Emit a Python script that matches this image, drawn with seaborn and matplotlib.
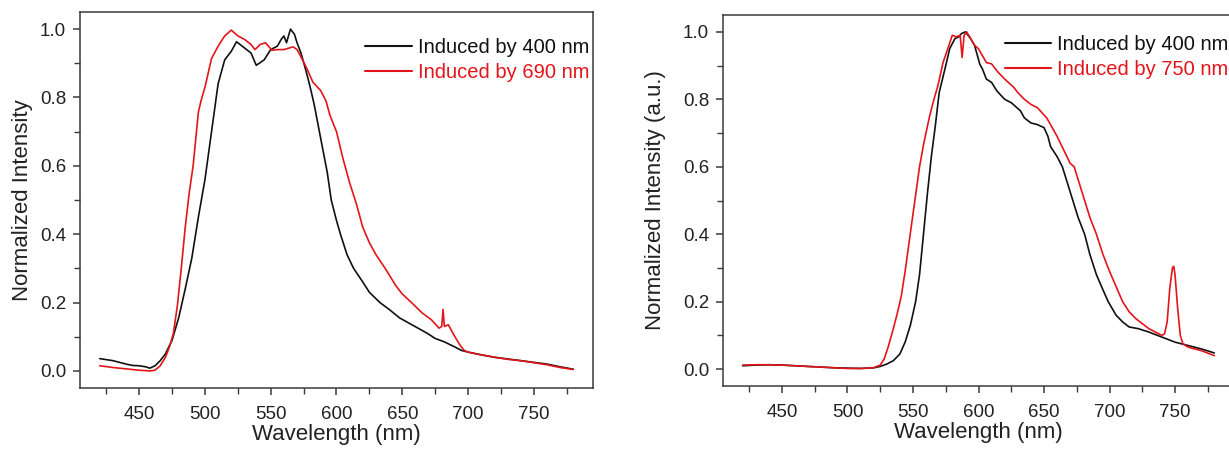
import matplotlib
matplotlib.use("Agg")
import matplotlib.pyplot as plt
import seaborn as sns
import pandas as pd
from matplotlib.ticker import MultipleLocator

# ---------------- data ----------------
# Left panel: induced by 400 nm (black)
left_400_wl = [420, 425, 430, 435, 440, 445, 450, 455, 458, 462, 466, 470, 475, 480, 485,
               490, 495, 500, 505, 510, 515, 520, 524, 530, 535, 539, 545, 550, 555, 558,
               560, 562, 565, 568, 570, 573, 577, 580, 583, 587, 590, 593, 596, 600, 603,
               608, 613, 620, 625, 633, 640, 648, 655, 662, 669, 675, 682, 690, 695, 700,
               710, 720, 730, 740, 750, 760, 770, 780]
left_400_val = [0.036, 0.033, 0.030, 0.025, 0.020, 0.016, 0.015, 0.012, 0.008, 0.015, 0.030,
                0.050, 0.090, 0.155, 0.240, 0.330, 0.450, 0.560, 0.700, 0.840, 0.910, 0.935,
                0.963, 0.945, 0.930, 0.894, 0.910, 0.940, 0.950, 0.970, 0.980, 0.960, 1.000,
                0.985, 0.960, 0.930, 0.875, 0.830, 0.780, 0.700, 0.640, 0.580, 0.500, 0.440,
                0.400, 0.340, 0.300, 0.260, 0.230, 0.200, 0.180, 0.155, 0.140, 0.125, 0.110,
                0.095, 0.085, 0.070, 0.060, 0.055, 0.047, 0.040, 0.035, 0.030, 0.025, 0.020,
                0.012, 0.005]

# Left panel: induced by 690 nm (red)
left_690_wl = [420, 430, 440, 450, 458, 462, 466, 470, 473, 476, 479, 482, 485, 488, 491,
               495, 497, 500, 505, 510, 515, 520, 525, 530, 535, 538, 542, 546, 551, 555,
               560, 567, 570, 575, 578, 582, 588, 592, 595, 600, 605, 610, 615, 620, 625,
               630, 637, 645, 650, 657, 665, 672, 678, 680, 681, 682, 685, 690, 694, 697,
               700, 710, 720, 730, 740, 750, 760, 770, 780]
left_690_val = [0.015, 0.010, 0.006, 0.002, 0.000, 0.002, 0.015, 0.040, 0.070, 0.110, 0.190,
                0.300, 0.420, 0.520, 0.600, 0.757, 0.790, 0.830, 0.914, 0.950, 0.980, 0.997,
                0.980, 0.970, 0.955, 0.940, 0.955, 0.960, 0.938, 0.940, 0.940, 0.948, 0.940,
                0.904, 0.880, 0.845, 0.820, 0.790, 0.748, 0.700, 0.620, 0.550, 0.490, 0.420,
                0.375, 0.340, 0.300, 0.250, 0.225, 0.200, 0.170, 0.150, 0.125, 0.130, 0.180,
                0.130, 0.135, 0.100, 0.075, 0.060, 0.055, 0.047, 0.040, 0.034, 0.030, 0.024,
                0.018, 0.010, 0.004]

# Right panel: induced by 400 nm (black)
right_400_wl = [420, 430, 440, 450, 460, 470, 480, 490, 500, 510, 520, 525, 530, 535, 540,
                544, 548, 552, 555, 558, 561, 564, 567, 570, 575, 578, 582, 585, 587, 590,
                594, 597, 601, 603, 606, 610, 614, 620, 625, 632, 635, 640, 645, 650, 653,
                655, 660, 664, 668, 672, 676, 681, 685, 690, 695, 699, 705, 710, 715, 722,
                730, 740, 750, 760, 770, 780]
right_400_val = [0.010, 0.012, 0.013, 0.012, 0.010, 0.008, 0.006, 0.004, 0.003, 0.002, 0.004,
                 0.008, 0.015, 0.025, 0.045, 0.080, 0.130, 0.200, 0.280, 0.400, 0.520, 0.630,
                 0.720, 0.820, 0.900, 0.950, 0.980, 0.985, 0.995, 1.000, 0.980, 0.960, 0.904,
                 0.890, 0.860, 0.850, 0.825, 0.800, 0.790, 0.766, 0.745, 0.730, 0.725, 0.716,
                 0.690, 0.660, 0.630, 0.600, 0.550, 0.500, 0.450, 0.400, 0.340, 0.280, 0.235,
                 0.200, 0.160, 0.140, 0.125, 0.120, 0.110, 0.095, 0.080, 0.070, 0.060, 0.048]

# Right panel: induced by 750 nm (red)
right_750_wl = [420, 430, 440, 450, 460, 470, 480, 490, 500, 510, 520, 525, 528, 531, 535,
                538, 541, 544, 547, 550, 555, 558, 561, 563, 566, 569, 573, 577, 580, 583,
                586, 587.5, 589, 591, 594, 597, 600, 606, 610, 615, 620, 627, 630, 635, 640,
                645, 652, 655, 660, 665, 670, 673, 677, 681, 685, 690, 695, 700, 705, 710,
                715, 720, 725, 730, 735, 740, 742, 744, 746, 748, 749, 750, 752, 754, 756,
                760, 770, 780]
right_750_val = [0.012, 0.013, 0.013, 0.012, 0.010, 0.008, 0.006, 0.004, 0.002, 0.002, 0.004,
                 0.012, 0.030, 0.065, 0.120, 0.165, 0.215, 0.290, 0.375, 0.460, 0.600, 0.665,
                 0.720, 0.755, 0.800, 0.840, 0.910, 0.955, 0.990, 0.985, 0.990, 0.924, 0.990,
                 1.000, 0.980, 0.960, 0.950, 0.909, 0.905, 0.880, 0.860, 0.835, 0.820, 0.800,
                 0.785, 0.775, 0.745, 0.725, 0.690, 0.650, 0.610, 0.600, 0.550, 0.500, 0.450,
                 0.400, 0.340, 0.290, 0.245, 0.200, 0.170, 0.150, 0.135, 0.120, 0.110, 0.100,
                 0.105, 0.140, 0.240, 0.300, 0.305, 0.280, 0.180, 0.100, 0.075, 0.065, 0.055,
                 0.040]

x_ticks = [450, 500, 550, 600, 650, 700, 750]
y_ticks = [0.0, 0.2, 0.4, 0.6, 0.8, 1.0]

left_labels = ["Induced by 400 nm", "Induced by 690 nm"]
right_labels = ["Induced by 400 nm", "Induced by 750 nm"]
x_title = "Wavelength (nm)"
left_y_title = "Normalized Intensity"
right_y_title = "Normalized Intensity (a.u.)"

BLACK = "#111111"
RED = "#e3151b"

# ---------------- style ----------------
sns.set_style("ticks")
plt.rcParams["font.family"] = ["Liberation Sans", "DejaVu Sans"]
plt.rcParams["axes.edgecolor"] = "#3a3a3a"
plt.rcParams["axes.linewidth"] = 1.1

W, H = 1229, 449
fig = plt.figure(figsize=(W / 100, H / 100), dpi=100)


def px_axes(l, t, r, b):
    return fig.add_axes([l / W, 1 - b / H, (r - l) / W, (b - t) / H])


ax1 = px_axes(80, 12, 593, 388)
ax2 = px_axes(723, 15, 1234, 386)


def draw(ax, wl_a, val_a, wl_b, val_b, labels, ytitle, leg_xy, ylabelpad):
    df_a = pd.DataFrame({"wl": wl_a, "val": val_a})
    df_b = pd.DataFrame({"wl": wl_b, "val": val_b})
    sns.lineplot(data=df_a, x="wl", y="val", ax=ax, color=BLACK, lw=1.2,
                 label=labels[0], sort=False, estimator=None)
    sns.lineplot(data=df_b, x="wl", y="val", ax=ax, color=RED, lw=1.2,
                 label=labels[1], sort=False, estimator=None)
    ax.set_xlim(405, 795)
    ax.set_ylim(-0.05, 1.05)
    ax.set_xticks(x_ticks)
    ax.set_yticks(y_ticks)
    ax.set_yticklabels([f"{v:.1f}" for v in y_ticks])
    ax.xaxis.set_minor_locator(MultipleLocator(25))
    ax.yaxis.set_minor_locator(MultipleLocator(0.1))
    ax.tick_params(which="major", direction="out", length=5, width=1.1,
                   labelsize=13.5, colors="#3a3a3a", labelcolor="#222222", pad=5)
    ax.tick_params(axis="x", which="major", pad=8)
    ax.tick_params(which="minor", direction="out", length=4, width=1.0, colors="#3a3a3a")
    ax.set_xlabel(x_title, fontsize=16, color="#222222", labelpad=1)
    ax.set_ylabel(ytitle, fontsize=16, color="#222222", labelpad=ylabelpad)
    for s in ax.spines.values():
        s.set_visible(True)
    leg = ax.legend(loc="upper left", bbox_to_anchor=leg_xy, frameon=False,
                    fontsize=14.5, handlelength=2.3, handletextpad=0.3,
                    labelspacing=0.3, borderpad=0, borderaxespad=0)
    for txt, col in zip(leg.get_texts(), [BLACK, RED]):
        txt.set_color(col)
    for line in leg.get_lines():
        line.set_linewidth(1.5)


draw(ax1, left_400_wl, left_400_val, left_690_wl, left_690_val,
     left_labels, left_y_title, (0.556, 0.93), 5)
draw(ax2, right_400_wl, right_400_val, right_750_wl, right_750_val,
     right_labels, right_y_title, (0.552, 0.945), 12)

fig.savefig("out.png", dpi=100)
